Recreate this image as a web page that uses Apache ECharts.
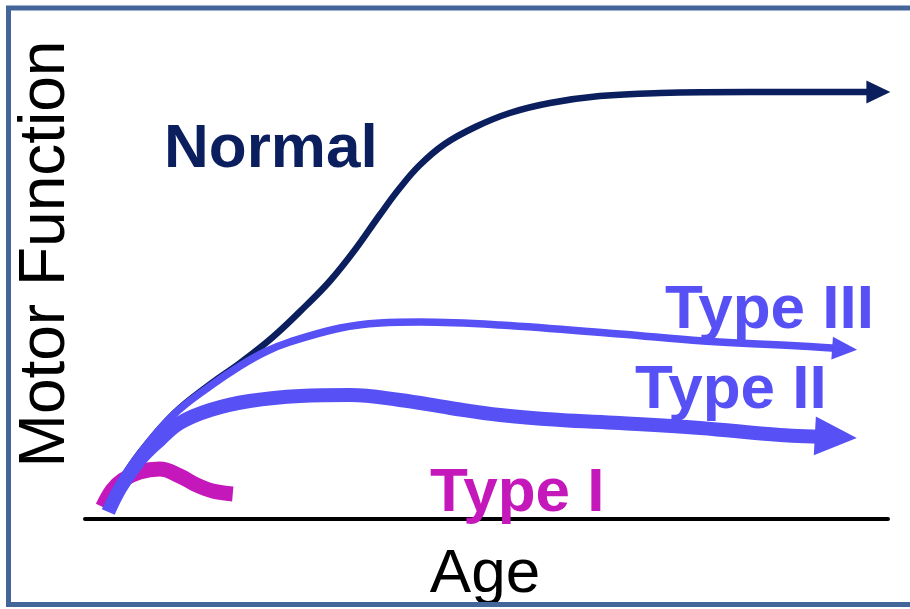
<!DOCTYPE html>
<html>
<head>
<meta charset="utf-8">
<script src="https://cdn.jsdelivr.net/npm/echarts@6/dist/echarts.min.js"></script>
<style>
html,body{margin:0;padding:0;background:#fff;}
#chart{width:910px;height:609px;}
</style>
</head>
<body>
<div id="chart"></div>
<script>
// Curve readings (x = age, y = motor function, both on 0–100 scales)
const normalX = [2.6, 4.4, 6.8, 11.0, 15.6, 19.3, 23.4, 27.6, 30.5, 33.6, 36.7, 39.2, 41.7, 44.8, 48.6, 52.9, 57.9, 64.1, 71.6, 82.8, 98.8];
const normalY = [2.0, 7.4, 13.2, 21.0, 27.0, 31.2, 36.4, 42.8, 47.6, 53.8, 60.8, 66.2, 70.8, 75.0, 78.4, 81.2, 83.2, 84.6, 85.2, 85.4, 85.4];

const type3X = [2.6, 4.4, 6.8, 11.0, 15.6, 19.3, 22.4, 25.5, 31.8, 36.7, 41.7, 51.7, 66.6, 77.0, 89.0, 94.6];
const type3Y = [1.8, 7.2, 13.0, 20.8, 26.6, 30.6, 33.4, 35.4, 38.2, 39.2, 39.4, 38.8, 37.0, 35.6, 34.6, 34.0];

const type2X = [2.9, 4.4, 6.8, 9.3, 11.8, 15.6, 20.5, 26.8, 33.0, 39.2, 45.5, 51.7, 59.2, 66.6, 76.6, 86.6, 93.5];
const type2Y = [1.4, 6.2, 11.8, 15.8, 19.2, 21.8, 23.6, 24.6, 24.8, 23.8, 22.2, 20.8, 19.8, 19.2, 18.2, 16.8, 16.4];

const type1X = [2.2, 3.4, 4.7, 6.8, 9.3, 11.8, 13.9, 15.9, 18.4];
const type1Y = [2.4, 5.8, 7.8, 9.4, 10.0, 8.6, 6.8, 5.6, 5.0];

const seriesNames = ['Type I', 'Normal', 'Type II', 'Type III'];
const axisNames = { x: 'Age', y: 'Motor Function' };

const NAVY = '#0B1F5E';
const BLUE = '#5650F5';
const MAGENTA = '#C418BB';
const FONT = '"Liberation Sans", Arial, Helvetica, sans-serif';

function buildData(xs, ys, arrow) {
  return xs.map((x, i) => {
    const item = { value: [x, ys[i]], symbol: 'none' };
    if (arrow && i === xs.length - 1) {
      item.symbol = 'triangle';
      item.symbolSize = arrow.size;
      item.symbolRotate = arrow.rotate;
    }
    return item;
  });
}

const chart = echarts.init(document.getElementById('chart'), null, { renderer: 'canvas' });

const option = {
  animation: false,
  backgroundColor: '#ffffff',
  grid: { left: 85, right: 22, top: 19, bottom: 90, containLabel: false },
  xAxis: {
    type: 'value', min: 0, max: 100,
    axisLine: { show: true, onZero: false, lineStyle: { color: '#000', width: 4 } },
    axisTick: { show: false }, axisLabel: { show: false }, splitLine: { show: false }
  },
  yAxis: {
    type: 'value', min: 0, max: 100, show: false
  },
  series: [
    {
      name: seriesNames[0], type: 'line', smooth: 0.4, showSymbol: true, symbol: 'none',
      lineStyle: { color: MAGENTA, width: 15, cap: 'butt' },
      itemStyle: { color: MAGENTA },
      data: buildData(type1X, type1Y, null), z: 2
    },
    {
      name: seriesNames[1], type: 'line', smooth: 0.4, showSymbol: true, symbol: 'none',
      lineStyle: { color: NAVY, width: 6.5 },
      itemStyle: { color: NAVY },
      data: buildData(normalX, normalY, { size: [23, 24], rotate: -90 }), z: 3
    },
    {
      name: seriesNames[2], type: 'line', smooth: 0.4, showSymbol: true, symbol: 'none',
      lineStyle: { color: BLUE, width: 14 },
      itemStyle: { color: BLUE },
      data: buildData(type2X, type2Y, { size: [39, 42], rotate: -93 }), z: 4
    },
    {
      name: seriesNames[3], type: 'line', smooth: 0.4, showSymbol: true, symbol: 'none',
      lineStyle: { color: BLUE, width: 7.5 },
      itemStyle: { color: BLUE },
      data: buildData(type3X, type3Y, { size: [23, 25], rotate: -94 }), z: 5
    }
  ],
  graphic: [
    {
      type: 'rect', z: 100, silent: true,
      shape: { x: 8.5, y: 8, width: 920, height: 596.5 },
      style: { fill: 'none', stroke: '#43659A', lineWidth: 5 }
    },
    {
      type: 'text', z: 50, x: 164, y: 150,
      style: { text: seriesNames[1], font: 'bold 62px ' + FONT, fill: NAVY, textAlign: 'left', verticalAlign: 'middle' }
    },
    {
      type: 'text', z: 50, x: 665, y: 311,
      style: { text: seriesNames[3], font: 'bold 62px ' + FONT, fill: BLUE, textAlign: 'left', verticalAlign: 'middle' }
    },
    {
      type: 'text', z: 50, x: 635, y: 391,
      style: { text: seriesNames[2], font: 'bold 62px ' + FONT, fill: BLUE, textAlign: 'left', verticalAlign: 'middle' }
    },
    {
      type: 'text', z: 50, x: 430, y: 494,
      style: { text: seriesNames[0], font: 'bold 62px ' + FONT, fill: MAGENTA, textAlign: 'left', verticalAlign: 'middle' }
    },
    {
      type: 'text', z: 50, x: 485, y: 575,
      style: { text: axisNames.x, font: '62px ' + FONT, fill: '#000', textAlign: 'center', verticalAlign: 'middle' }
    },
    {
      type: 'text', z: 50, x: 46, y: 254, rotation: Math.PI / 2,
      style: { text: axisNames.y, font: '64px ' + FONT, fill: '#000', textAlign: 'center', verticalAlign: 'middle' }
    }
  ]
};

chart.setOption(option);
</script>
</body>
</html>
